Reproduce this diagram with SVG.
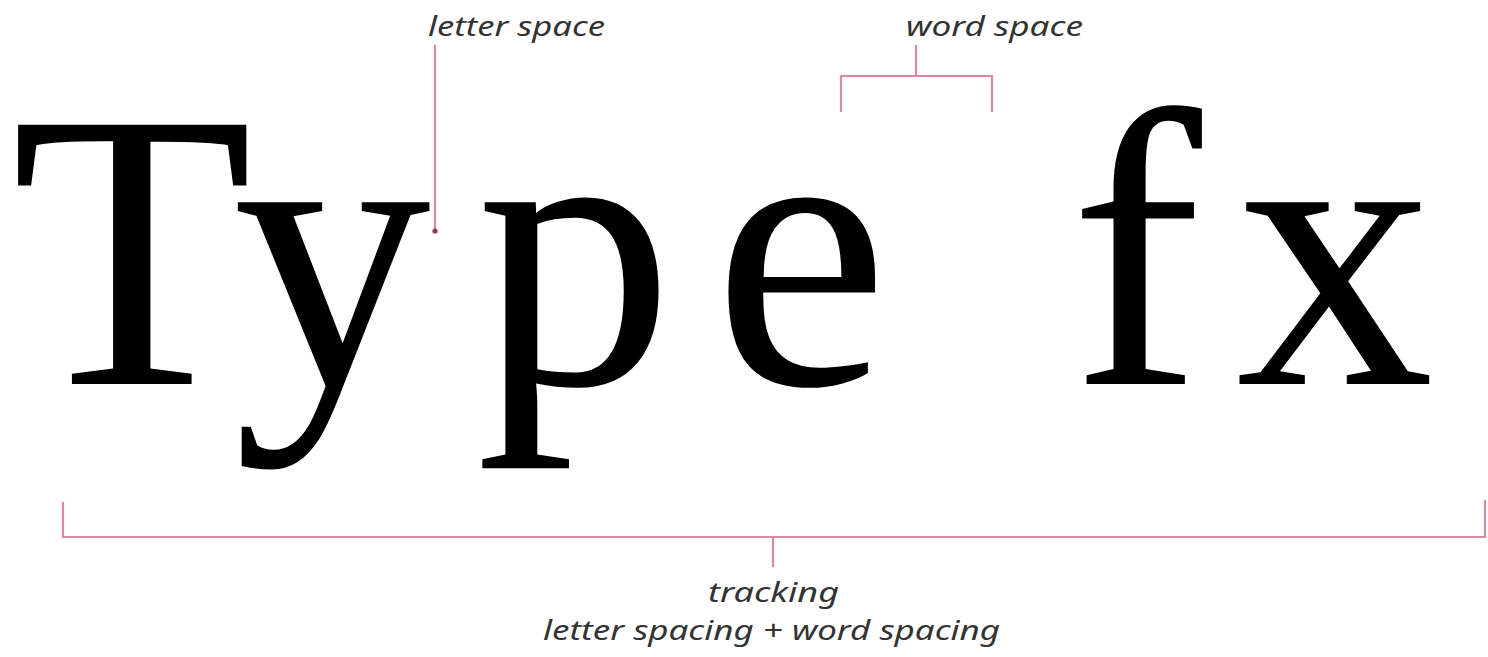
<svg xmlns="http://www.w3.org/2000/svg" width="1488" height="657" viewBox="0 0 1488 657">
<style>
.ln{stroke:#d98a9f;stroke-width:2.2;fill:none}
</style>
<rect width="1488" height="657" fill="#fff"/>
<g id="word-type" transform="scale(4)">
<text font-family="Liberation Serif" font-size="99" fill="#000" x="2.75 58.25 119 178.25" y="96">Type</text>
</g>
<g id="word-fx" transform="scale(4)">
<text font-family="Liberation Serif" font-size="99" fill="#000" x="267.5 309" y="96">fx</text>
</g>
<g id="connectors">
<path class="ln" d="M435 45V230"/>
<circle cx="435" cy="231" r="2.6" fill="#8a3a50"/>
<path class="ln" d="M916 45V76M841 112V76H992V112"/>
<path class="ln" d="M63 502V537H1485V500M773 537V567"/>
</g>
<g id="labels" font-family="Noto Sans" font-style="italic" font-size="27" fill="#333">
<g id="label-letter-space"><text x="428" y="36" textLength="177" lengthAdjust="spacingAndGlyphs">letter space</text></g>
<g id="label-word-space"><text x="906" y="36" textLength="177" lengthAdjust="spacingAndGlyphs">word space</text></g>
<g id="label-tracking">
<text x="708" y="602" textLength="131" lengthAdjust="spacingAndGlyphs">tracking</text>
<text x="543" y="640" textLength="457" lengthAdjust="spacingAndGlyphs">letter spacing + word spacing</text>
</g>
</g>
</svg>
